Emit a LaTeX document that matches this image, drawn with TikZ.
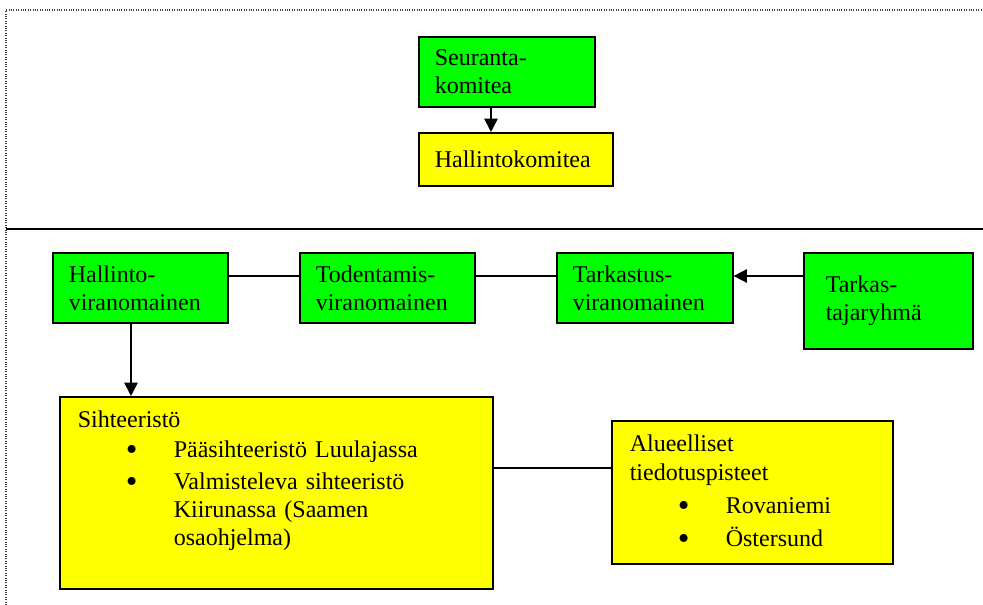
\documentclass[tikz,border=0pt]{standalone}
\usepackage{fontspec}
\setmainfont{Liberation Serif}
\usetikzlibrary{arrows.meta}
\definecolor{boxgreen}{RGB}{0,255,0}
\definecolor{boxyellow}{RGB}{255,255,0}
\begin{document}
\begin{tikzpicture}[x=0.75pt, y=-0.75pt,
		box/.style={draw=black, line width=1.2pt, anchor=north west, align=left, inner xsep=12pt, inner ysep=0pt, font=\fontsize{18}{21}\selectfont},
		gbox/.style={box, fill=boxgreen},
		ybox/.style={box, fill=boxyellow},
		link/.style={black, line width=1.2pt},
		arr/.style={link, -{Triangle[length=10pt, width=10pt]}}]
		\useasboundingbox (0,0) rectangle (983,605);
		% frame
		\draw[densely dotted, line width=0.8pt, black!75] (6,605) -- (6,10) -- (983,10);
		\draw[line width=1.5pt] (6,229) -- (983,229);
		% upper part
		\node[gbox, minimum width=132pt, minimum height=52.5pt, text width=108pt] (seur) at (418,36) {Seuranta-\\komitea};
		\node[ybox, minimum width=145.5pt, minimum height=39.75pt, text width=121.5pt] (hkom) at (418,132) {Hallintokomitea};
		% authorities
		\node[gbox, minimum width=131.25pt, minimum height=52.5pt, text width=107.25pt] (hv) at (52,252) {Hallinto-\\viranomainen};
		\node[gbox, minimum width=131.25pt, minimum height=52.5pt, text width=107.25pt] (tv) at (299,252) {Todentamis-\\viranomainen};
		\node[gbox, minimum width=132pt, minimum height=52.5pt, text width=108pt] (tark) at (556,252) {Tarkastus-\\viranomainen};
		\node[gbox, minimum width=126.75pt, minimum height=72pt, inner xsep=16.5pt, text width=93.75pt] (tryh) at (803,252) {Tarkas-\\tajaryhmä};
		% secretariat
		\node[ybox, minimum width=324.75pt, minimum height=144pt, inner xsep=13.5pt, text width=297.75pt] (siht) at (59,396) {Sihteeristö\\[1.5pt]
			\hspace*{36pt}\makebox[36pt][l]{\raisebox{-2.5pt}{\fontsize{25}{21}\selectfont\textbullet}}Pääsihteeristö Luulajassa\\[3pt]
			\hspace*{36pt}\makebox[36pt][l]{\raisebox{-2.5pt}{\fontsize{25}{21}\selectfont\textbullet}}Valmisteleva sihteeristö\\
			\hspace*{72pt}Kiirunassa (Saamen\\
			\hspace*{72pt}osaohjelma)\rule[-22pt]{0pt}{0pt}};
		\node[ybox, minimum width=210.75pt, minimum height=107.25pt, inner xsep=13.5pt, text width=183.75pt] (alue) at (611,420) {Alueelliset\\[0.75pt]
			tiedotuspisteet\\[3.75pt]
			\hspace*{36pt}\makebox[36pt][l]{\raisebox{-2.5pt}{\fontsize{25}{21}\selectfont\textbullet}}Rovaniemi\\[3.75pt]
			\hspace*{36pt}\makebox[36pt][l]{\raisebox{-2.5pt}{\fontsize{25}{21}\selectfont\textbullet}}Östersund};
		% connectors
		\coordinate (ax) at (491,0);
		\coordinate (bx) at (131,0);
		\coordinate (ry) at (0,276);
		\coordinate (sy) at (0,468);
		\draw[arr] (seur.south -| ax) -- (hkom.north -| ax);
		\draw[arr] (hv.south -| bx) -- (siht.north -| bx);
		\draw[link] (hv.east |- ry) -- (tv.west |- ry);
		\draw[link] (tv.east |- ry) -- (tark.west |- ry);
		\draw[arr] (tryh.west |- ry) -- (tark.east |- ry);
		\draw[link] (siht.east |- sy) -- (alue.west |- sy);
	\end{tikzpicture}
\end{document}
